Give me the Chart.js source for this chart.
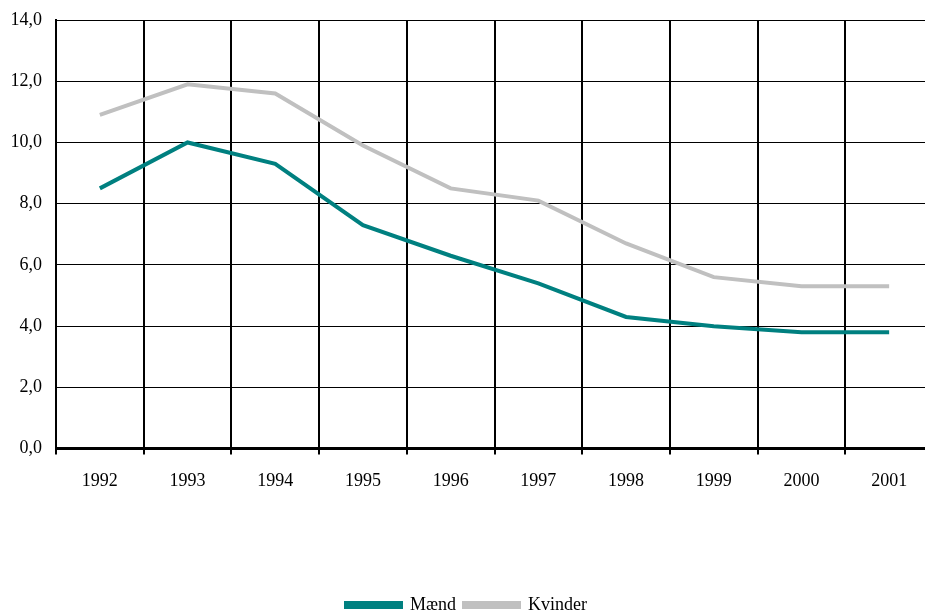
<!DOCTYPE html>
<html>
<head>
<meta charset="utf-8">
<script src="https://cdn.jsdelivr.net/npm/chart.js@4"></script>
<style>
  html, body { margin: 0; padding: 0; background: #fff; overflow: hidden; }
  #wrap { width: 940px; height: 611px; }
</style>
</head>
<body>
<div id="wrap"><canvas id="chart"></canvas></div>
<script>
const years = ['1992', '1993', '1994', '1995', '1996', '1997', '1998', '1999', '2000', '2001'];
const maend = [8.5, 10.0, 9.3, 7.3, 6.3, 5.4, 4.3, 4.0, 3.8, 3.8];
const kvinder = [10.9, 11.9, 11.6, 9.9, 8.5, 8.1, 6.7, 5.6, 5.3, 5.3];

Chart.defaults.font.family = '"Liberation Serif", "DejaVu Serif", serif';
Chart.defaults.font.size = 18;
Chart.defaults.color = '#000';

try {
  new Chart(document.getElementById('chart'), {
    type: 'line',
    data: {
      labels: years,
      datasets: [
        {
          label: 'Mænd',
          data: maend,
          borderColor: '#008080',
          backgroundColor: '#008080',
          borderWidth: 4,
          pointRadius: 0,
          tension: 0
        },
        {
          label: 'Kvinder',
          data: kvinder,
          borderColor: '#c0c0c0',
          backgroundColor: '#c0c0c0',
          borderWidth: 4,
          pointRadius: 0,
          tension: 0
        }
      ]
    },
    options: {
      responsive: true,
      maintainAspectRatio: false,
      animation: false,
      layout: { padding: { top: 20, right: 7, left: 0, bottom: -13 } },
      plugins: {
        tooltip: { enabled: false },
        legend: {
          position: 'bottom',
          labels: { boxWidth: 55, boxHeight: 4, padding: 8 }
        }
      },
      scales: {
        x: {
          offset: true,
          grid: { offset: true, color: '#000', lineWidth: 2, drawTicks: true, tickLength: 6 },
          border: { color: '#000', width: 3 },
          ticks: { padding: 16, maxRotation: 0 },
          afterFit: s => { s.height = 139.4; }
        },
        y: {
          min: 0,
          max: 14,
          ticks: {
            stepSize: 2,
            padding: 0,
            callback: v => v.toFixed(1).replace('.', ',')
          },
          // transparent ticks give the label gap without pushing the chart area down
          grid: { color: '#000', lineWidth: 1, drawTicks: true, tickLength: 14, tickColor: 'rgba(0,0,0,0)' },
          border: { color: '#000', width: 2 },
          afterFit: s => { s.width = 56; }
        }
      }
    }
  });
} catch (error) {
  console.log(error);
}
</script>
</body>
</html>
